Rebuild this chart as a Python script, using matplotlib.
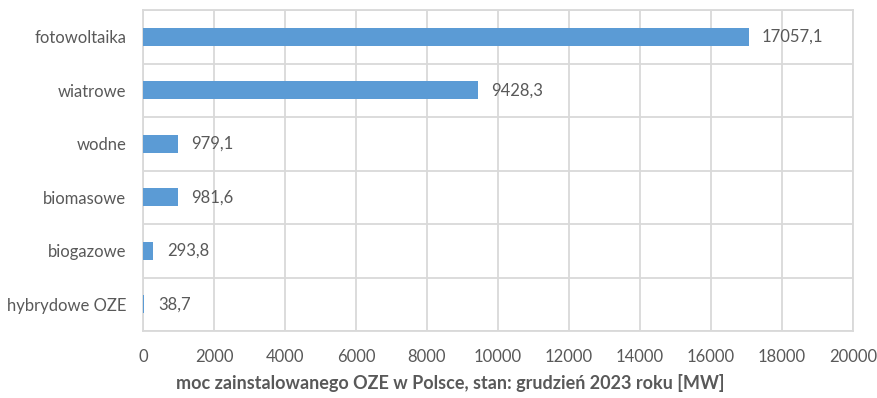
import numpy as np
import matplotlib.pyplot as plt

# Moc zainstalowana OZE w Polsce, grudzień 2023 [MW]
kategorie = ["fotowoltaika", "wiatrowe", "wodne", "biomasowe", "biogazowe", "hybrydowe OZE"]
moc = [17057.1, 9428.3, 979.1, 981.6, 293.8, 38.7]
x_ticks = [0, 2000, 4000, 6000, 8000, 10000, 12000, 14000, 16000, 18000, 20000]

plt.rcParams['font.family'] = ['Lato', 'DejaVu Sans']
kolor_tekstu = '#595959'
kolor_siatki = '#d9d9d9'

fig = plt.figure(figsize=(8.78, 3.98), dpi=100)
ax = fig.add_axes([143 / 878, 1 - 331 / 398, 710 / 878, 321 / 398])

y = np.arange(len(kategorie))
ax.barh(y, moc, height=0.34, color='#5b9bd5', zorder=3)

for yi, v in zip(y, moc):
    ax.text(v + 380, yi, f"{v:.1f}".replace('.', ','), va='center', ha='left',
            fontsize=12, color=kolor_tekstu)

ax.set_xlim(0, 20000)
ax.set_ylim(len(kategorie) - 0.5, -0.5)
ax.set_xticks(x_ticks)
ax.set_yticks(y)
ax.set_yticklabels(kategorie)
ax.set_yticks(np.arange(len(kategorie) + 1) - 0.5, minor=True)

ax.grid(axis='x', which='major', color=kolor_siatki, linewidth=1.3, zorder=0)
ax.grid(axis='y', which='minor', color=kolor_siatki, linewidth=1.3, zorder=0)
ax.tick_params(which='both', length=0)
ax.tick_params(axis='x', pad=13, labelsize=12, colors=kolor_tekstu)
ax.tick_params(axis='y', pad=12, labelsize=12, colors=kolor_tekstu)
for s in ax.spines.values():
    s.set_color(kolor_siatki)
    s.set_linewidth(1.3)

fig.text(450 / 878, 1 - 383 / 398, "moc zainstalowanego OZE w Polsce, stan: grudzień 2023 roku [MW]",
         ha='center', va='center', fontsize=13, fontweight='bold', color=kolor_tekstu)

fig.savefig('out.png', dpi=100)
